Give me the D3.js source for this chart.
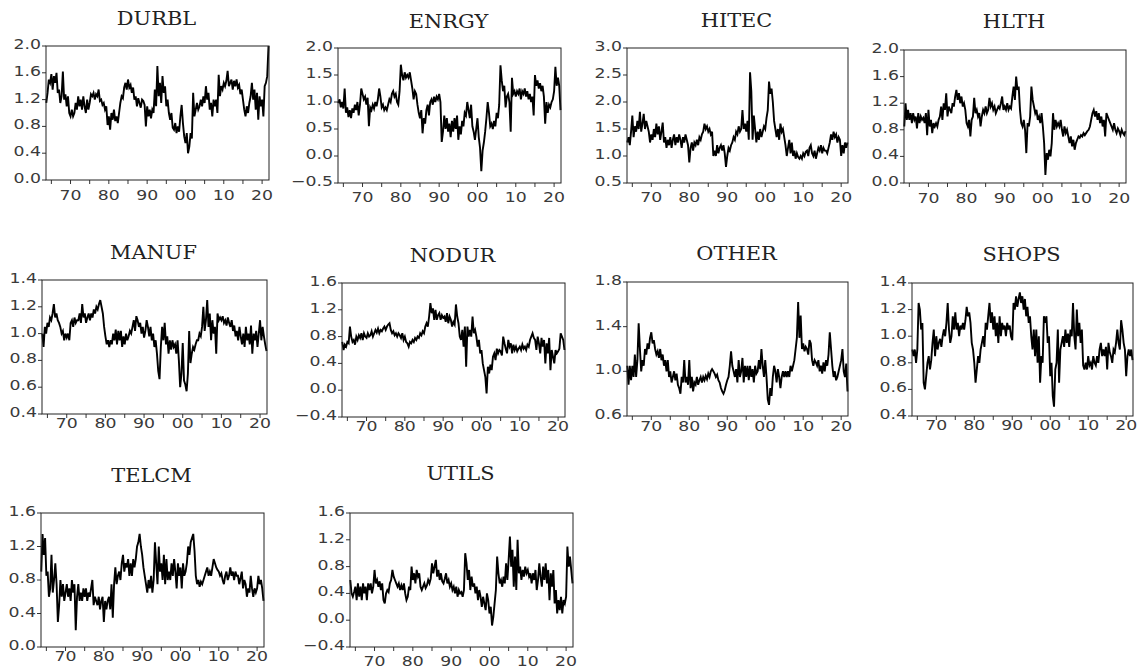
<!DOCTYPE html>
<html><head><meta charset="utf-8">
<script src="https://cdn.jsdelivr.net/npm/d3@7"></script>
<style>body{margin:0;background:#fff}svg{display:block}</style>
</head><body>
<svg id="chart" width="1143" height="672"></svg>
<script>
// ---- data: one value every 4 months, first point Sep 1963 ----
const startYear = 1963.67;
const stepYears = 1 / 3;
const xDomain = [1963.6, 2021.8];
const xTickYears = [1965,1970,1975,1980,1985,1990,1995,2000,2005,2010,2015,2020];
const xLabelYears = [1970,1980,1990,2000,2010,2020];
const xLabelText = ["70","80","90","00","10","20"];

const durbl = [1.15,
 1.30,1.50,1.45, 1.58,1.35,1.55, 1.45,1.60,1.30, 1.35,1.15,1.25, 1.62,1.20,1.28, 1.10,1.25,1.00,
 0.95,1.05,0.95, 1.00,1.15,1.05, 1.25,1.10,1.20, 1.05,1.25,1.10, 1.00,1.20,1.05, 1.15,1.28,1.25,
 1.30,1.20,1.28, 1.25,1.35,1.18, 1.20,1.12,1.15, 1.05,1.10,0.82, 0.95,0.75,1.00, 0.90,1.05,0.88,
 0.95,0.85,1.00, 1.15,1.25,1.22, 1.38,1.45,1.35, 1.50,1.38,1.42, 1.30,1.38,1.20, 1.25,1.10,1.22,
 1.15,1.08,1.20, 1.18,1.12,0.80, 1.10,0.95,1.05, 0.92,1.05,1.00, 1.35,1.10,1.70, 1.25,1.45,1.15,
 1.55,1.30,1.40, 1.10,1.20,1.00, 0.90,1.00,0.78, 0.75,0.85,0.70, 0.80,0.72,0.95, 1.12,0.85,0.65,
 0.55,0.70,0.40, 0.50,0.70,0.62, 1.30,0.95,1.05, 1.15,1.05,1.10, 1.20,1.10,1.25, 1.15,1.40,1.20,
 1.30,1.05,1.15, 0.95,1.20,1.10, 1.20,1.00,1.57, 1.25,1.40,1.35, 1.45,1.40,1.48, 1.63,1.40,1.45,
 1.50,1.35,1.48, 1.40,1.50,1.38, 1.42,1.28,1.35, 1.20,1.05,0.95, 1.10,1.00,1.15, 1.25,1.45,1.20,
 1.35,1.05,1.30, 0.90,1.25,1.10, 1.20,0.95,1.40, 1.45,1.55,2.00];

const enrgy = [0.98,
 1.05,0.90,1.00, 0.88,1.25,0.80, 0.90,0.72,0.85, 0.70,0.88,0.80, 0.95,0.85,1.00, 0.75,0.95,1.25,
 1.15,1.05,1.10, 0.95,1.08,0.55, 0.90,0.85,0.95, 0.88,1.00,0.92, 1.05,1.25,1.10, 0.90,0.95,0.85,
 0.90,0.85,0.95, 1.05,1.00,1.15, 1.20,1.10,1.15, 1.00,0.95,1.20, 1.69,1.50,1.40, 1.55,1.45,1.50,
 1.45,1.55,1.40, 1.25,1.05,1.20, 1.15,0.95,0.80, 0.70,0.85,0.42, 0.70,0.60,0.85, 0.95,0.75,1.00,
 1.05,0.95,1.10, 1.00,1.10,1.05, 1.15,1.00,0.26, 0.45,0.75,0.50, 0.70,0.45,0.60, 0.35,0.65,0.45,
 0.70,0.50,0.75, 0.30,0.55,0.40, 0.65,0.55,0.80, 0.75,1.00,0.85, 0.70,0.95,0.55, 0.45,0.30,0.50,
 0.70,0.35,0.15, -0.28,0.10,0.25, 0.45,0.70,1.00, 0.80,0.55,0.60, 0.50,0.65,0.55, 0.80,0.70,0.95,
 1.68,1.40,1.20, 1.30,0.90,1.10, 1.15,1.00,0.45, 1.45,1.15,1.20, 1.10,1.20,1.15, 1.25,1.05,1.20,
 1.15,1.25,1.10, 1.20,1.05,1.15, 1.00,1.10,0.75, 1.50,1.30,1.40, 1.25,1.35,1.20, 1.30,1.10,0.60,
 1.00,0.80,0.95, 0.90,1.00,1.05, 1.20,1.65,1.30, 1.45,1.30,0.85];

const hitec = [1.25,
 1.35,1.20,1.45, 1.75,1.35,1.55, 1.45,1.65,1.50, 1.82,1.45,1.60, 1.78,1.50,1.65, 1.55,1.45,1.25,
 1.40,1.30,1.50, 1.35,1.60,1.40, 1.55,1.30,1.45, 1.62,1.25,1.35, 1.15,1.30,1.20, 1.35,1.15,1.30,
 1.40,1.20,1.35, 1.25,1.40,1.30, 1.15,1.35,1.25, 1.40,1.30,1.20, 0.88,1.15,1.25, 1.10,1.25,1.20,
 1.30,1.20,1.35, 1.30,1.40,1.45, 1.60,1.50,1.55, 1.45,1.50,1.40, 1.45,1.00,1.10, 1.00,1.20,1.05,
 1.15,1.20,1.10, 1.20,1.05,0.80, 1.00,1.15,1.10, 1.20,1.25,1.35, 1.30,1.45,1.40, 1.55,1.45,1.50,
 1.85,1.50,1.60, 1.45,1.65,1.30, 2.55,2.20,1.30, 1.75,1.50,1.25, 1.45,1.30,1.50, 1.35,1.45,1.55,
 1.50,1.70,1.85, 2.38,2.15,2.25, 2.00,1.65,1.50, 1.35,1.50,1.30, 1.60,1.45,1.50, 1.35,1.20,1.00,
 1.15,1.30,1.05, 1.25,1.00,1.10, 0.95,1.05,0.98, 0.95,1.00,0.95, 1.05,1.00,1.08, 1.10,1.00,1.15,
 1.20,1.05,1.00, 1.10,0.95,1.05, 1.15,1.10,1.20, 1.05,1.15,1.10, 1.10,1.05,1.15, 1.25,1.40,1.30,
 1.45,1.35,1.40, 1.25,1.35,1.30, 1.00,1.20,1.05, 1.25,1.15,1.25];

const hlth = [0.85,
 1.20,0.95,1.10, 0.95,1.05,0.90, 1.05,0.95,1.00, 0.82,1.05,0.90, 1.00,0.95,0.98, 0.90,1.05,0.72,
 1.10,0.85,0.95, 0.75,0.90,0.85, 0.90,0.85,0.95, 1.00,1.15,0.95, 1.20,1.10,1.35, 1.00,1.15,1.10,
 1.05,1.20,1.15, 1.30,1.40,1.25, 1.35,1.20,1.30, 1.15,1.20,1.10, 0.90,0.85,0.95, 0.70,0.95,1.00,
 1.28,1.05,1.10, 1.00,1.05,0.85, 1.00,1.10,1.05, 1.15,1.05,1.10, 1.28,1.15,1.20, 1.10,1.15,1.05,
 1.10,1.15,1.12, 1.20,1.30,1.10, 1.15,1.10,1.20, 1.10,1.15,1.12, 1.30,1.45,1.25, 1.60,1.40,1.45,
 1.10,0.90,0.85, 0.95,0.80,0.45, 0.90,0.85,1.00, 1.45,1.25,1.15, 1.05,1.10,0.95, 1.00,0.90,1.05,
 0.85,0.60,0.12, 0.45,0.35,0.50, 0.40,0.60,1.05, 0.80,0.95,0.85, 0.90,0.85,0.95, 0.80,0.70,0.85,
 0.75,0.80,0.70, 0.60,0.70,0.55, 0.65,0.50,0.60, 0.65,0.70,0.68, 0.72,0.70,0.75, 0.72,0.75,0.78,
 0.80,0.85,0.95, 1.05,1.10,1.00, 1.08,0.95,1.05, 0.90,1.00,0.85, 0.95,0.70,1.05, 1.00,0.95,0.90,
 0.85,0.80,0.90, 0.80,0.75,0.82, 0.78,0.72,0.80, 0.75,0.72,0.78];

const manuf = [1.00,
 0.90,1.05,1.00, 1.08,1.05,1.12, 1.10,1.15,1.22, 1.12,1.15,1.10, 1.08,1.05,1.00, 1.02,0.95,1.00,
 0.97,1.00,0.95, 1.08,1.10,1.05, 1.12,1.08,1.10, 1.10,1.15,1.08, 1.22,1.12,1.15, 1.08,1.12,1.15,
 1.10,1.15,1.12, 1.18,1.15,1.20, 1.18,1.22,1.25, 1.20,1.15,1.05, 0.98,0.92,0.95, 0.90,0.95,0.92,
 1.00,0.95,1.03, 0.92,1.02,0.95, 1.02,0.90,0.98, 0.92,1.00,0.95, 0.98,1.02,1.00, 1.05,1.10,1.02,
 1.13,1.10,1.05, 1.08,1.00,1.05, 0.97,1.02,1.10, 1.05,0.98,1.05, 0.95,1.00,0.90, 0.95,0.85,0.72,
 0.66,0.90,1.05, 0.95,1.08,0.92, 0.98,0.85,0.95, 0.88,0.95,0.90, 0.92,0.85,0.95, 0.80,0.60,0.70,
 0.93,0.65,0.62, 0.57,0.70,1.02, 0.78,0.85,0.90, 0.88,0.92,0.95, 0.95,1.00,0.98, 1.05,1.20,1.02,
 1.10,1.25,1.05, 1.15,0.95,1.10, 1.00,1.05,0.85, 1.15,1.10,1.12, 1.10,1.13,1.08, 1.10,1.06,1.12,
 1.08,1.05,1.10, 1.02,1.06,0.98, 1.02,0.95,1.05, 0.98,0.92,1.00, 0.90,1.05,0.95, 1.00,0.92,1.06,
 0.85,1.00,0.95, 1.02,0.90,1.00, 1.10,0.95,1.05, 0.98,0.92,0.87];

const nodur = [0.72,
 0.60,0.68,0.65, 0.72,0.70,0.95, 0.80,0.72,0.75, 0.68,0.80,0.75, 0.82,0.78,0.85, 0.75,0.85,0.80,
 0.78,0.85,0.80, 0.82,0.88,0.80, 0.85,0.90,0.86, 0.92,0.85,0.90, 0.88,0.92,0.95, 0.90,0.95,0.98,
 1.00,0.90,0.85, 0.88,0.82,0.85, 0.80,0.85,0.82, 0.78,0.85,0.75, 0.80,0.72,0.70, 0.65,0.72,0.70,
 0.75,0.72,0.78, 0.75,0.80,0.78, 0.85,0.82,0.88, 0.85,0.95,1.00, 0.95,1.10,1.30, 1.15,1.22,1.05,
 1.20,1.05,1.12, 1.15,1.05,1.12, 1.08,1.10,1.02, 1.15,1.00,1.10, 1.05,0.95,1.02, 0.98,1.28,1.10,
 1.00,0.80,0.75, 0.90,0.65,0.95, 0.35,0.95,0.80, 0.90,0.80,1.10, 0.85,0.90,0.80, 0.65,0.75,0.55,
 0.60,0.40,0.30, 0.20,-0.05,0.35, 0.25,0.38,0.30, 0.50,0.55,0.45, 0.62,0.55,0.60, 0.58,0.52,0.80,
 0.70,0.62,0.55, 0.75,0.65,0.70, 0.55,0.68,0.60, 0.65,0.58,0.62, 0.65,0.60,0.68, 0.62,0.65,0.60,
 0.68,0.65,0.75, 0.80,0.85,0.78, 0.75,0.60,0.80, 0.70,0.55,0.78, 0.65,0.75,0.40, 0.70,0.55,0.78,
 0.30,0.60,0.50, 0.40,0.60,0.55, 0.58,0.62,0.85, 0.80,0.75,0.60];

const other = [1.05,
 0.88,1.05,0.92, 1.05,0.95,1.15, 0.95,1.10,1.43, 1.20,1.00,1.10, 1.05,1.20,1.15, 1.25,1.20,1.30,
 1.35,1.25,1.28, 1.20,1.15,1.18, 1.12,1.20,1.10, 1.15,1.05,1.10, 1.00,1.10,0.95, 1.00,0.90,0.95,
 1.00,0.92,0.98, 0.88,0.85,0.80, 0.95,0.90,1.10, 0.90,0.95,0.88, 1.10,0.85,0.95, 0.82,0.90,0.88,
 0.95,0.88,0.92, 0.95,0.90,0.95, 0.92,0.96,0.93, 0.98,0.95,1.00, 1.02,1.00,0.98, 0.95,0.97,0.92,
 0.90,0.85,0.82, 0.80,0.83,0.88, 0.92,0.95,1.05, 1.18,1.05,1.00, 0.95,1.02,0.90, 1.10,0.95,1.00,
 1.12,0.90,1.05, 0.95,1.05,0.92, 1.05,0.95,1.02, 0.90,1.05,0.98, 1.00,1.10,1.02, 1.20,1.05,0.95,
 1.10,0.95,0.75, 0.70,0.85,0.78, 0.95,1.05,1.00, 0.90,1.02,0.95, 0.85,0.95,1.00, 0.95,1.00,0.95,
 1.00,0.95,1.05, 1.00,1.05,1.10, 1.20,1.30,1.62, 1.30,1.50,1.20, 1.25,1.18,1.22, 1.20,1.15,1.28,
 1.25,1.10,1.05, 1.10,1.08,1.05, 1.10,1.00,1.05, 0.98,1.08,1.00, 1.10,1.05,1.15, 1.35,1.20,1.05,
 0.95,1.00,0.92, 0.95,1.00,1.05, 1.10,1.20,1.00, 0.95,1.07,0.82];

const shops = [0.90,
 0.85,0.90,0.80, 0.90,1.25,1.20, 1.05,1.10,0.65, 0.60,0.70,0.80, 0.85,0.75,0.82, 0.95,1.05,0.85,
 1.00,0.90,0.95, 0.98,0.92,1.00, 1.05,1.00,1.10, 1.25,1.05,0.95, 1.00,1.15,1.05, 1.18,1.05,1.10,
 1.00,1.08,1.05, 1.10,1.05,1.12, 1.22,1.15,1.18, 1.10,0.95,0.90, 0.80,0.65,0.75, 0.85,0.80,0.90,
 0.95,1.00,0.92, 1.10,1.05,1.15, 1.25,1.10,1.18, 1.05,1.15,1.00, 1.10,0.95,1.15, 1.00,1.10,1.05,
 1.08,1.00,1.10, 1.05,1.08,1.00, 0.97,1.25,1.20, 1.30,1.22,1.28, 1.33,1.25,1.30, 1.20,1.28,1.15,
 1.22,1.10,1.15, 1.00,0.90,1.05, 0.85,1.05,0.80, 1.00,0.65,0.85, 0.80,1.15,1.10, 1.15,0.95,1.00,
 0.70,0.80,0.55, 0.47,0.75,0.80, 1.05,0.65,0.90, 0.95,1.00,0.92, 1.05,0.95,1.02, 0.92,1.05,1.00,
 1.25,1.00,0.90, 1.20,1.00,1.10, 0.95,1.05,0.78, 0.75,0.80,0.75, 0.85,0.78,0.80, 0.75,0.85,0.80,
 0.78,0.85,0.80, 0.90,0.95,0.85, 0.90,0.85,0.92, 0.75,0.95,0.88, 0.85,0.80,0.90, 0.88,0.95,1.05,
 0.95,0.90,1.12, 1.05,0.95,0.90, 0.70,0.85,0.90, 0.85,0.90,0.82];

const telcm = [0.90,
 1.35,1.10,1.30, 0.85,0.90,0.60, 0.70,1.10,0.65, 0.80,1.00,0.75, 0.30,0.50,0.80, 0.60,0.75,0.55,
 0.65,0.75,0.60, 0.70,0.55,0.80, 0.65,0.75,0.20, 0.60,0.75,0.55, 0.65,0.55,0.70, 0.60,0.70,0.55,
 0.65,0.60,0.70, 0.80,0.50,0.60, 0.55,0.50,0.60, 0.45,0.55,0.60, 0.30,0.55,0.45, 0.55,0.60,0.45,
 0.75,0.35,0.75, 0.95,0.75,0.85, 0.90,0.80,1.00, 1.10,0.90,1.00, 0.95,1.05,0.85, 1.00,0.85,1.05,
 0.95,1.05,1.20, 1.25,1.35,1.20, 1.10,0.95,0.85, 0.75,0.65,0.80, 0.70,0.85,0.65, 0.80,1.25,1.00,
 0.75,1.20,0.90, 1.00,0.80,1.10, 0.75,1.05,0.80, 0.90,0.80,1.00, 0.85,1.05,0.90, 0.70,1.00,0.85,
 0.95,0.70,1.00, 0.85,0.90,1.00, 1.20,1.10,1.25, 1.30,1.35,1.15, 0.85,0.75,0.80, 0.72,0.78,0.75,
 0.80,0.85,0.90, 0.95,0.85,0.90, 0.85,0.95,1.05, 1.00,0.95,0.92, 0.90,0.85,0.88, 0.80,0.75,0.85,
 0.90,0.80,0.85, 0.95,0.85,0.90, 0.80,0.90,0.85, 0.85,0.75,0.82, 0.90,0.70,0.80, 0.75,0.60,0.70,
 0.65,0.85,0.70, 0.60,0.70,0.65, 0.70,0.85,0.75, 0.80,0.70,0.55];

const utils = [0.60,
 0.40,0.35,0.42, 0.50,0.30,0.55, 0.35,0.50,0.30, 0.55,0.40,0.50, 0.30,0.55,0.45, 0.55,0.40,0.50,
 0.75,0.55,0.60, 0.50,0.58,0.45, 0.55,0.30,0.25, 0.40,0.45,0.42, 0.55,0.60,0.75, 0.65,0.60,0.55,
 0.50,0.55,0.45, 0.52,0.45,0.55, 0.40,0.30,0.35, 0.50,0.45,0.80, 0.60,0.70,0.55, 0.75,0.65,0.70,
 0.50,0.45,0.50, 0.55,0.48,0.52, 0.60,0.55,0.62, 0.85,0.70,0.80, 0.90,0.65,0.75, 0.60,0.70,0.58,
 0.55,0.62,0.70, 0.55,0.60,0.50, 0.55,0.45,0.50, 0.40,0.50,0.35, 0.45,0.40,0.42, 0.35,0.45,1.00,
 0.85,0.60,0.75, 0.45,0.65,0.50, 0.55,0.40,0.50, 0.30,0.45,0.35, 0.20,0.35,0.25, 0.15,0.40,0.30,
 0.10,0.20,-0.08, 0.05,0.25,0.45, 0.95,0.70,0.55, 0.60,0.50,0.65, 0.55,0.85,0.60, 0.90,1.25,0.80,
 1.05,0.50,0.95, 0.45,1.20,0.70, 0.80,0.60,0.75, 0.65,0.80,0.70, 0.75,0.65,0.70, 0.55,0.70,0.60,
 0.75,0.45,0.60, 0.85,0.65,0.50, 0.80,0.60,0.85, 0.55,0.75,0.30, 0.70,0.50,0.75, 0.25,0.45,0.10,
 0.30,0.15,0.35, 0.10,0.30,0.25, 0.35,1.10,0.80, 0.95,0.75,0.55];

const ticksDurbl = [0.0,0.4,0.8,1.2,1.6,2.0];
const ticksEnrgy = [-0.5,0.0,0.5,1.0,1.5,2.0];
const ticksHitec = [0.5,1.0,1.5,2.0,2.5,3.0];
const ticksHlth  = [0.0,0.4,0.8,1.2,1.6,2.0];
const ticksManuf = [0.4,0.6,0.8,1.0,1.2,1.4];
const ticksNodur = [-0.4,0.0,0.4,0.8,1.2,1.6];
const ticksOther = [0.6,1.0,1.4,1.8];
const ticksShops = [0.4,0.6,0.8,1.0,1.2,1.4];
const ticksTelcm = [0.0,0.4,0.8,1.2,1.6];
const ticksUtils = [-0.4,0.0,0.4,0.8,1.2,1.6];

const titles = ["DURBL","ENRGY","HITEC","HLTH","MANUF","NODUR","OTHER","SHOPS","TELCM","UTILS"];
const seriesList = [durbl,enrgy,hitec,hlth,manuf,nodur,other,shops,telcm,utils];
const tickList = [ticksDurbl,ticksEnrgy,ticksHitec,ticksHlth,ticksManuf,ticksNodur,ticksOther,ticksShops,ticksTelcm,ticksUtils];

// ---- layout (frame boxes, title baselines, x-label offsets) ----
const layout = [
 {L:46,  R:269,  T:46,  B:180, ty:25,  xo:15},
 {L:338, R:561,  T:48,  B:183, ty:28,  xo:14},
 {L:627, R:848,  T:48,  B:183, ty:27,  xo:14},
 {L:904, R:1126, T:50,  B:183, ty:28,  xo:15},
 {L:42,  R:267,  T:280, B:414, ty:259, xo:9},
 {L:342, R:565,  T:283, B:417, ty:262, xo:9},
 {L:627, R:848,  T:282, B:416, ty:260, xo:10},
 {L:912, R:1133, T:283, B:416, ty:261, xo:9},
 {L:41,  R:264,  T:513, B:647, ty:482, xo:9},
 {L:350, R:573,  T:513, B:647, ty:480, xo:14}
];

const svg = d3.select("#chart");
svg.append("rect").attr("width",1143).attr("height",672).attr("fill","#fff");

const labelFont = "'DejaVu Sans', Verdana, sans-serif";
const titleFont = "'DejaVu Serif', 'Liberation Serif', serif";
const fmt = d3.format(".1f");

titles.forEach((name, k) => {
  const P = layout[k];
  const vals = seriesList[k];
  const ticks = tickList[k];
  const x = d3.scaleLinear().domain(xDomain).range([P.L, P.R]);
  const y = d3.scaleLinear().domain(d3.extent(ticks)).range([P.B, P.T]);
  const g = svg.append("g");

  // title
  g.append("text")
    .attr("transform", `translate(${(P.L+P.R)/2 - 1},${P.ty}) scale(1.1,1)`)
    .attr("text-anchor","middle")
    .attr("font-family", titleFont).attr("font-size", 19)
    .attr("fill","#222").text(name);

  // y ticks and labels
  ticks.forEach(t => {
    g.append("line").attr("x1",P.L-4).attr("x2",P.L).attr("y1",y(t)).attr("y2",y(t))
      .attr("stroke","#333").attr("stroke-width",1);
    g.append("text")
      .attr("transform", `translate(${P.L-5},${y(t)+3}) scale(1.28,1)`)
      .attr("text-anchor","end")
      .attr("font-family", labelFont).attr("font-size", 13.5)
      .attr("fill","#3a3a3a").text(fmt(t));
  });

  // x ticks and labels
  xTickYears.forEach(yr => {
    g.append("line").attr("x1",x(yr)).attr("x2",x(yr)).attr("y1",P.B).attr("y2",P.B+4)
      .attr("stroke","#333").attr("stroke-width",1);
  });
  xLabelYears.forEach((yr,i) => {
    g.append("text")
      .attr("transform", `translate(${x(yr)},${P.B+P.xo+5}) scale(1.28,1)`)
      .attr("text-anchor","middle")
      .attr("font-family", labelFont).attr("font-size", 13.5)
      .attr("fill","#3a3a3a").text(xLabelText[i]);
  });

  // series line
  const line = d3.line()
    .x((d,i) => x(startYear + i*stepYears))
    .y(d => y(d));
  g.append("path").datum(vals).attr("d", line)
    .attr("fill","none").attr("stroke","#000").attr("stroke-width",1.9)
    .attr("stroke-linejoin","miter");

  // frame
  g.append("rect").attr("x",P.L).attr("y",P.T).attr("width",P.R-P.L).attr("height",P.B-P.T)
    .attr("fill","none").attr("stroke","#222").attr("stroke-width",1);
});
</script>
</body></html>
